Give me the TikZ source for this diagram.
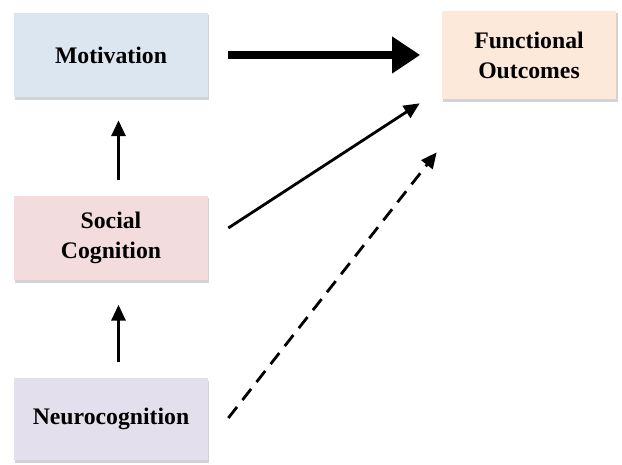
\documentclass[tikz,border=0pt]{standalone}
\usepackage{tikz}
\usepackage{fontspec}
\setmainfont{Liberation Serif}
\usetikzlibrary{arrows.meta, shadows}
\definecolor{motblue}{HTML}{DCE6F1}
\definecolor{socpink}{HTML}{F2DCDD}
\definecolor{neulav}{HTML}{E4DFEC}
\definecolor{funpeach}{HTML}{FCE9DA}

\begin{document}
\begin{tikzpicture}[x=0.02cm, y=-0.02cm,
  box/.style={fill=#1, minimum width=3.88cm, minimum height=1.7cm, align=center,
    font=\bfseries\fontsize{13.5}{17}\selectfont, drop shadow={shadow xshift=0.6pt, shadow yshift=-1.6pt, opacity=0.35}},
  link/.style={line width=1.6pt, -{Triangle[length=9pt, width=8pt]}}]
\useasboundingbox (0,0) rectangle (622,465);
\node[box=motblue] (M) at (111,55) {Motivation};
\node[box=funpeach, minimum width=3.5cm, minimum height=1.78cm] (F) at (529,55) {Functional\\Outcomes};
\node[box=socpink] (S) at (111,238) {Social\\Cognition};
\node[box=neulav, minimum height=1.64cm] (N) at (111,419) {Neurocognition};
\draw[line width=4pt, -{Triangle[length=16pt, width=20pt]}, shorten <=0.4cm, shorten >=0.42cm] (M) -- (F);
\draw[link] ([xshift=0.15cm, yshift=0.3cm]S.north) -- ([xshift=0.15cm, yshift=-0.45cm]M.south);
\draw[link] ([xshift=0.15cm, yshift=0.32cm]N.north) -- ([xshift=0.15cm, yshift=-0.48cm]S.south);
\draw[link] ([shift={(20,-10)}]S.east) -- ([shift={(-21.5,3.5)}]F.south west);
\draw[link, dash pattern=on 8pt off 5pt] ([shift={(20,-1)}]N.east) -- ([shift={(-4.5,52.5)}]F.south west);
\end{tikzpicture}
\end{document}
